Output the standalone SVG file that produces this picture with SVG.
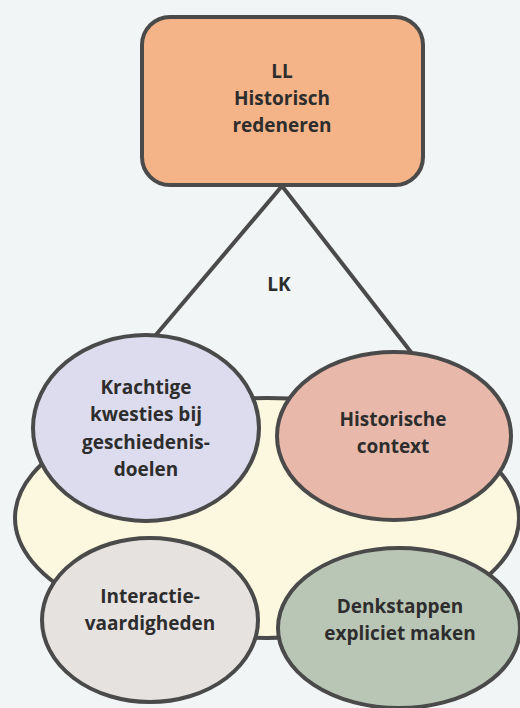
<svg xmlns="http://www.w3.org/2000/svg" width="520" height="708" viewBox="0 0 520 708">
<style>
.s{stroke:#4a4a4a;stroke-width:4}
.t{font-family:"Open Sans","Liberation Sans",sans-serif;font-weight:700;font-size:19px;fill:#2d2d2d;text-anchor:middle}
</style>
<rect x="0" y="0" width="520" height="708" fill="#f2f5f5"/>
<g id="base">
<ellipse class="s" cx="267" cy="518" rx="252" ry="120" fill="#fbf8df"/>
</g>
<g id="connectors">
<line class="s" x1="282" y1="186" x2="155" y2="336"/>
<line class="s" x1="282" y1="186" x2="414" y2="356"/>
</g>
<g id="n-ll">
<rect class="s" x="142" y="17" width="281" height="168" rx="28" fill="#f4b487"/>
<text class="t" x="282" y="78">LL</text>
<text class="t" x="282" y="105">Historisch</text>
<text class="t" x="282" y="132">redeneren</text>
</g>
<g id="n-lk">
<text class="t" x="279" y="291">LK</text>
</g>
<g id="n-krachtige">
<ellipse class="s" cx="146" cy="428" rx="113" ry="93" fill="#dcdcee"/>
<text class="t" x="146" y="394">Krachtige</text>
<text class="t" x="146" y="421">kwesties bij</text>
<text class="t" x="146" y="449">geschiedenis-</text>
<text class="t" x="146" y="476">doelen</text>
</g>
<g id="n-context">
<ellipse class="s" cx="394" cy="436" rx="117" ry="84" fill="#e8b9aa"/>
<text class="t" x="393" y="426">Historische</text>
<text class="t" x="393" y="453">context</text>
</g>
<g id="n-interactie">
<ellipse class="s" cx="150" cy="620" rx="108" ry="82" fill="#e6e2e0"/>
<text class="t" x="150" y="603">Interactie-</text>
<text class="t" x="150" y="630">vaardigheden</text>
</g>
<g id="n-denkstappen">
<ellipse class="s" cx="399" cy="628" rx="121" ry="80" fill="#bac6b5"/>
<text class="t" x="400" y="613">Denkstappen</text>
<text class="t" x="400" y="640">expliciet maken</text>
</g>
</svg>
